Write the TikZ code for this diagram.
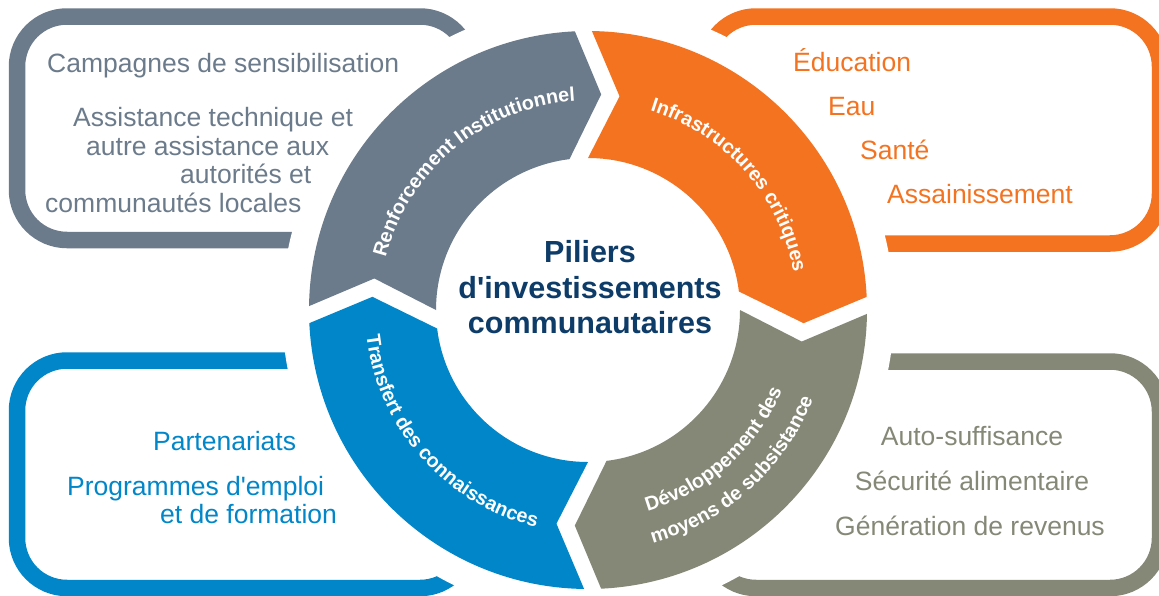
\documentclass[tikz,border=0pt]{standalone}
\usepackage{fontspec}
\setmainfont{Liberation Sans}
\usetikzlibrary{decorations.text}
\definecolor{cgray}{RGB}{108,123,139}
\definecolor{corange}{RGB}{243,115,33}
\definecolor{cblue}{RGB}{0,134,201}
\definecolor{colive}{RGB}{133,136,119}
\definecolor{cnavy}{RGB}{14,60,104}
\begin{document}
\begin{tikzpicture}[x=1pt,y=1pt,
  boxline/.style={line width=16.5pt, rounded corners=50pt},
  boxtext/.style={inner sep=0pt, anchor=base west, font=\fontsize{26.5}{30}\selectfont},
  ctrtext/.style={inner sep=0pt, anchor=base, font=\fontsize{26.5}{30}\selectfont},
  titletext/.style={inner sep=0pt, anchor=base, text=cnavy, font=\bfseries\fontsize{30.5}{36}\selectfont},
  ringtext/.style={decorate, decoration={text along path, text align=center, text color=white, text={|\bfseries\fontsize{19.8}{20}\selectfont|#1}}}
]
\useasboundingbox (0,0) rectangle (1159,-595);
\clip (0,0) rectangle (1159,-595);
% outer boxes
\draw[boxline, cgray] (17,-16.5) rectangle (470,-240);
\draw[boxline, corange] (706,-16.5) rectangle (1160,-243.5);
\draw[boxline, cblue] (17,-360.5) rectangle (470,-588);
\draw[boxline, colive] (706,-361.5) rectangle (1160,-588);
% white halo around ring
\fill[white] (588,-310) circle[radius=306];
% ring segments
\begin{scope}[shift={(588,-310)}]
\fill[cgray] (179.2:279) arc[start angle=179.2, end angle=92.7, radius=279] -- (86.5:216) -- (97:152) arc[start angle=97, end angle=180, radius=152] -- (171.6:216) -- cycle;
\fill[corange] (89.2:279) arc[start angle=89.2, end angle=2.7, radius=279] -- (-3.5:216) -- (7:152) arc[start angle=7, end angle=90, radius=152] -- (81.6:216) -- cycle;
\fill[colive] (-0.8:279) arc[start angle=-0.8, end angle=-87.3, radius=279] -- (-93.5:216) -- (-83:152) arc[start angle=-83, end angle=0, radius=152] -- (-8.4:216) -- cycle;
\fill[cblue] (-90.8:279) arc[start angle=-90.8, end angle=-177.3, radius=279] -- (-183.5:216) -- (-173:152) arc[start angle=-173, end angle=-90, radius=152] -- (-98.4:216) -- cycle;
% ring labels
\path[ringtext={Renforcement Institutionnel}] (175:209) arc[start angle=175, end angle=84, radius=209];
\path[ringtext={Infrastructures critiques}] (87:209) arc[start angle=87, end angle=-4, radius=209];
\path[ringtext={Transfert des connaissances}] (177:223) arc[start angle=177, end angle=266, radius=223];
\path[ringtext={Développement des}] (-93:210) arc[start angle=-93, end angle=-3, radius=210];
\path[ringtext={moyens de subsistance}] (-93:242) arc[start angle=-93, end angle=-3, radius=242];
\end{scope}
% centre title
\node[titletext] (t1) at (590,-262) {Piliers};
\node[titletext] (t2) at (590,-298) {d\textquotesingle investissements};
\node[titletext] (t3) at (590,-333) {communautaires};
% top-left texts
\node[boxtext, text=cgray] (a1) at (47,-72) {Campagnes de sensibilisation};
\node[boxtext, text=cgray] (a2) at (73,-126) {Assistance technique et};
\node[boxtext, text=cgray] (a3) at (86,-155) {autre assistance aux};
\node[boxtext, text=cgray] (a4) at (180,-183) {autorités et};
\node[boxtext, text=cgray] (a5) at (45,-212) {communautés locales};
% top-right texts
\node[boxtext, text=corange] (b1) at (793,-71) {Éducation};
\node[boxtext, text=corange] (b2) at (828,-115) {Eau};
\node[boxtext, text=corange] (b3) at (860,-159) {Santé};
\node[boxtext, text=corange] (b4) at (887,-203) {Assainissement};
% bottom-left texts
\node[boxtext, text=cblue] (c1) at (153,-450) {Partenariats};
\node[boxtext, text=cblue] (c2) at (67,-495) {Programmes d\textquotesingle emploi};
\node[boxtext, text=cblue] (c3) at (160,-523) {et de formation};
% bottom-right texts
\node[ctrtext, text=colive] (d1) at (972,-445) {Auto-suffisance};
\node[ctrtext, text=colive] (d2) at (972,-490) {Sécurité alimentaire};
\node[ctrtext, text=colive] (d3) at (970,-535) {Génération de revenus};
\end{tikzpicture}
\end{document}
